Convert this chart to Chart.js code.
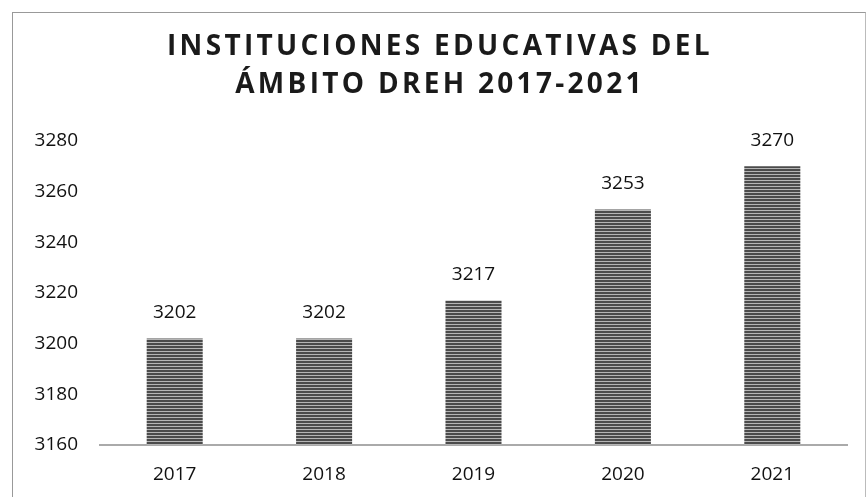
<!DOCTYPE html>
<html>
<head>
<meta charset="utf-8">
<script src="https://cdn.jsdelivr.net/npm/chart.js@4.4.1/dist/chart.umd.min.js"></script>
<style>
  html, body { margin: 0; padding: 0; background: #fff; }
  #frame { position: absolute; left: 12px; top: 12px; width: 852px; height: 490px;
           border-left: 1px solid #999; border-top: 1px solid #999; border-right: 1px solid #bbb; }
  #frame canvas { display: block; }
</style>
</head>
<body>
<div id="frame"><canvas id="myChart" width="852" height="485"></canvas></div>
<script>
var years = ["2017", "2018", "2019", "2020", "2021"];
var instituciones = [3202, 3202, 3217, 3253, 3270];
var titleLines = ["INSTITUCIONES EDUCATIVAS DEL", "ÁMBITO DREH 2017-2021"];
var yMin = 3160, yMax = 3280, yStep = 20;

// striped grey fill, like the printed bars
function stripes() {
    var c = document.createElement('canvas');
    c.width = 4; c.height = 3;
    var g = c.getContext('2d');
    g.fillStyle = '#4b4b4b'; g.fillRect(0, 0, 4, 2);
    g.fillStyle = '#b5b5b5'; g.fillRect(0, 2, 4, 1);
    return g.createPattern(c, 'repeat');
}

var titlePlugin = {
    id: 'spacedTitle',
    afterDraw: function (chart) {
        var ctx = chart.ctx;
        ctx.save();
        ctx.font = 'bold 28px "Open Sans"';
        ctx.fillStyle = '#1a1a1a';
        ctx.textAlign = 'center';
        ctx.textBaseline = 'middle';
        if ('letterSpacing' in ctx) ctx.letterSpacing = '3.3px';
        ctx.fillText(titleLines[0], chart.width / 2 + 1, 34);
        ctx.fillText(titleLines[1], chart.width / 2 + 1, 72);
        ctx.restore();
    }
};

var valuePlugin = {
    id: 'valueLabels',
    afterDatasetsDraw: function (chart) {
        var ctx = chart.ctx;
        var meta = chart.getDatasetMeta(0);
        ctx.save();
        ctx.font = '19px "Open Sans"';
        ctx.fillStyle = '#111';
        ctx.textAlign = 'center';
        ctx.textBaseline = 'middle';
        meta.data.forEach(function (bar, i) {
            ctx.fillText(instituciones[i], bar.x, bar.y - 26);
        });
        ctx.restore();
    }
};

var canvas = document.getElementById('myChart').getContext('2d');

var chart = new Chart(canvas, {
    type: 'bar',
    data: {
        labels: years,
        datasets: [{
            data: instituciones,
            backgroundColor: stripes(),
            borderWidth: 0,
            categoryPercentage: 1,
            barPercentage: 0.375
        }]
    },
    options: {
        responsive: false,
        animation: false,
        layout: { padding: { top: 128, right: 18, left: 0, bottom: 0 } },
        plugins: { legend: { display: false }, tooltip: { enabled: false } },
        scales: {
            x: {
                grid: { display: false, drawTicks: false },
                border: { color: '#aaa', width: 2 },
                afterFit: function (scale) { scale.height = 53; },
                ticks: { color: '#111', font: { family: '"Open Sans"', size: 19 }, padding: 18 }
            },
            y: {
                min: yMin, max: yMax,
                grid: { display: false, drawTicks: false },
                border: { display: false },
                afterFit: function (scale) { scale.width = 87; },
                ticks: {
                    stepSize: yStep, color: '#111', font: { family: '"Open Sans"', size: 19 }, padding: 22,
                    callback: function (v) { return String(v); }
                }
            }
        }
    },
    plugins: [titlePlugin, valuePlugin]
});
</script>
</body>
</html>
